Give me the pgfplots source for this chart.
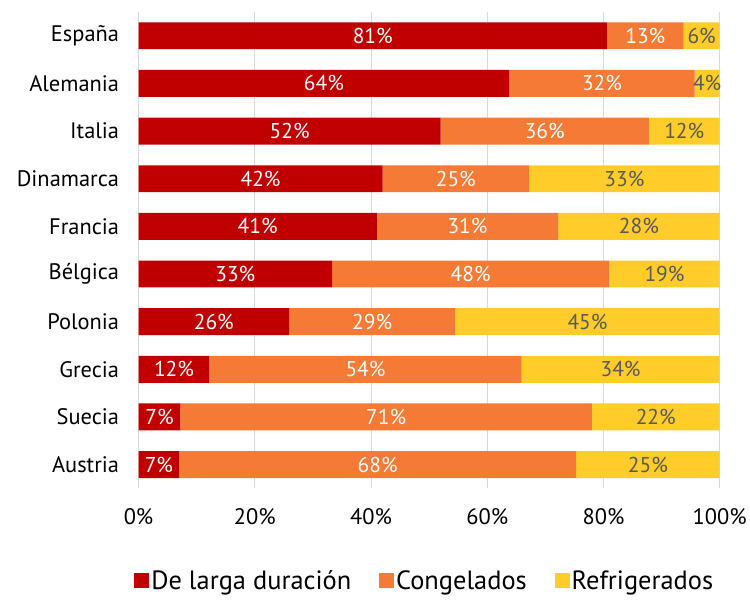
\documentclass[border=0pt]{standalone}
\usepackage{pgfplots}
\pgfplotsset{compat=1.18}
\usepackage{fontspec}
\setmainfont{PT Sans}
\definecolor{cred}{HTML}{C00000}
\definecolor{corange}{HTML}{F47A35}
\definecolor{cyellow}{HTML}{FFCC29}
\definecolor{cgray}{HTML}{595959}
\definecolor{cgrid}{HTML}{D9D9D9}
\begin{document}
\begin{tikzpicture}
\begin{axis}[
  name=ax,
  scale only axis,
  width=583pt, height=478pt,
  xbar stacked,
  bar width=27pt,
  xmin=0, xmax=100,
  ymin=-0.5, ymax=9.5,
  y dir=reverse,
  ytick={0,...,9},
  yticklabels={España,Alemania,Italia,Dinamarca,Francia,Bélgica,Polonia,Grecia,Suecia,Austria},
  xtick={0,20,...,100},
  xticklabel={\pgfmathprintnumber{\tick}\%},
  /pgf/number format/assume math mode=true,
  xmajorgrids, grid style={cgrid, line width=0.8pt},
  axis line style={draw=none},
  tick style={draw=none},
  tick label style={font=\fontsize{22.5}{24}\selectfont, text=black},
  xticklabel style={yshift=-17pt},
  yticklabel style={xshift=-16pt},
  point meta=explicit symbolic,
  nodes near coords={\pgfplotspointmeta\%},
  every node near coord/.append style={font=\fontsize{21.5}{24}\selectfont},
  legend style={at={(0.4925,-0.194)}, anchor=center, draw=none, legend columns=3,
    font=\fontsize{26.5}{28}\selectfont,
    /tikz/every even column/.append style={column sep=26pt}},
  legend image code/.code={\fill[#1] (-5pt,-7pt) rectangle (10pt,8pt);},
]
\addplot[fill=cred, draw=none, nodes near coords style={text=white}] coordinates {
(80.6,0) [81] (63.8,1) [64] (52.0,2) [52] (42.0,3) [42] (41.0,4) [41]
(33.3,5) [33] (25.9,6) [26] (12.2,7) [12] (7.2,8) [7] (7.0,9) [7]};
\addplot[fill=corange, draw=none, nodes near coords style={text=white}] coordinates {
(13.2,0) [13] (31.9,1) [32] (35.8,2) [36] (25.2,3) [25] (31.2,4) [31]
(47.7,5) [48] (28.6,6) [29] (53.7,7) [54] (70.8,8) [71] (68.3,9) [68]};
\addplot[fill=cyellow, draw=none, nodes near coords style={text=cgray}] coordinates {
(6.2,0) [6] (4.3,1) [4] (12.2,2) [12] (32.8,3) [33] (27.8,4) [28]
(19.0,5) [19] (45.5,6) [45] (34.1,7) [34] (22.0,8) [22] (24.7,9) [25]};
\legend{De larga duración, Congelados, Refrigerados}
\end{axis}
\path[use as bounding box] ([xshift=-139pt,yshift=-111pt]ax.south west) rectangle ([xshift=28pt,yshift=12pt]ax.north east);
\end{tikzpicture}
\end{document}
